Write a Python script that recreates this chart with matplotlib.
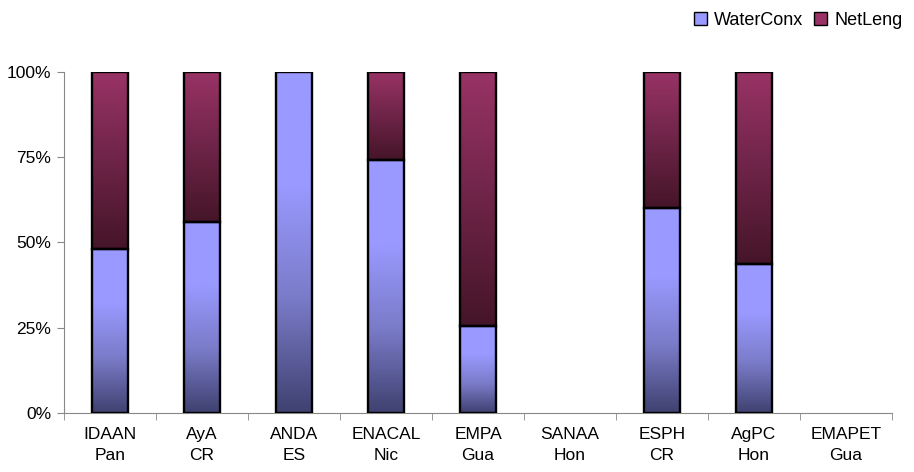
import numpy as np
import matplotlib.pyplot as plt
from matplotlib.colors import LinearSegmentedColormap
from matplotlib.patches import Rectangle

plt.rcParams['font.family'] = ['Liberation Sans', 'DejaVu Sans']

utilities = ["IDAAN\nPan", "AyA\nCR", "ANDA\nES", "ENACAL\nNic", "EMPA\nGua",
             "SANAA\nHon", "ESPH\nCR", "AgPC\nHon", "EMAPET\nGua"]
water_conx = [48, 56, 100, 74, 25.5, 0, 60, 43.7, 0]
net_leng = [52, 44, 0, 26, 74.5, 0, 40, 56.3, 0]

blue_cmap = LinearSegmentedColormap.from_list("b", ["#3f4170", "#7a7bc8", "#9999ff", "#9999ff"])
red_cmap = LinearSegmentedColormap.from_list("r", ["#451528", "#6e2448", "#993366"])

fig, ax = plt.subplots(figsize=(9.14, 4.72), dpi=100)
fig.subplots_adjust(left=0.07, right=0.976, top=0.848, bottom=0.125)

x = np.arange(len(utilities))
width = 0.39
grad = np.linspace(0, 1, 256).reshape(-1, 1)

def gradient_bars(bars, cmap):
    for b in bars:
        h = b.get_height()
        if h <= 0:
            continue
        x0, y0, w = b.get_x(), b.get_y(), b.get_width()
        im = ax.imshow(grad, cmap=cmap, origin="lower", aspect="auto",
                       extent=(x0, x0 + w, y0, y0 + h), zorder=2)
        im.set_clip_path(b)

b1 = ax.bar(x, water_conx, width, facecolor="none", edgecolor="black", linewidth=1.7, zorder=3)
b2 = ax.bar(x, net_leng, width, bottom=water_conx, facecolor="none", edgecolor="black", linewidth=1.7, zorder=3)
for bars in (b1, b2):
    for b in bars:
        if b.get_height() <= 0:
            b.set_visible(False)
gradient_bars(b1, blue_cmap)
gradient_bars(b2, red_cmap)

ax.set_xlim(-0.5, len(utilities) - 0.5)
ax.set_ylim(0, 100)
ax.set_yticks([0, 25, 50, 75, 100])
ax.set_yticklabels(["0%", "25%", "50%", "75%", "100%"], fontsize=12.5)
ax.set_xticks(x)
ax.set_xticklabels(utilities, fontsize=12.5, linespacing=1.5)
ax.set_xticks(np.arange(-0.5, len(utilities)), minor=True)
ax.tick_params(axis="x", which="major", length=0, pad=10)
ax.tick_params(axis="x", which="minor", length=5, color="#888888")
ax.tick_params(axis="y", length=5, color="#888888", pad=4)
for s in ("top", "right"):
    ax.spines[s].set_visible(False)
for s in ("left", "bottom"):
    ax.spines[s].set_color("#888888")

handles = [Rectangle((0, 0), 1, 1, facecolor="#9999ff", edgecolor="black", linewidth=1),
           Rectangle((0, 0), 1, 1, facecolor="#993366", edgecolor="black", linewidth=1)]
fig.legend(handles, ["WaterConx", "NetLeng"], loc="upper right", bbox_to_anchor=(1.005, 1.01),
           ncol=2, frameon=False, fontsize=13, handlelength=0.7, handleheight=0.7,
           handletextpad=0.4, columnspacing=0.6)

fig.savefig("out.png", dpi=100)
